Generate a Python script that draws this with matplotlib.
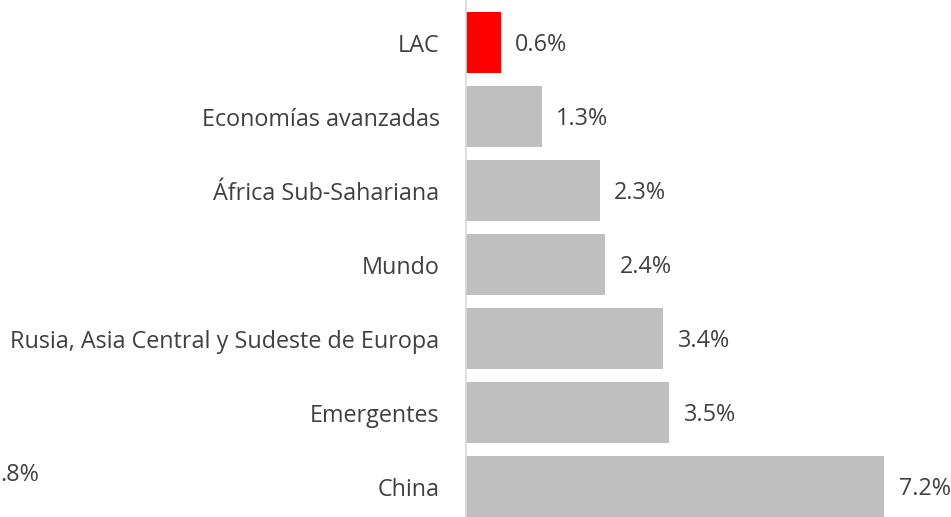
import matplotlib.pyplot as plt

regions = [
    "LAC",
    "Economías avanzadas",
    "África Sub-Sahariana",
    "Mundo",
    "Rusia, Asia Central y Sudeste de Europa",
    "Emergentes",
    "China",
]
growth = [0.6, 1.3, 2.3, 2.4, 3.4, 3.5, 7.2]
bar_colors = ["#ff0000"] + ["#bfbfbf"] * 6
cut_label = ".8%"

TEXT = "#404040"
FS = 16.8
plt.rcParams["font.family"] = ["Open Sans", "DejaVu Sans"]

fig = plt.figure(figsize=(9.51, 5.17), dpi=100)
ax = fig.add_axes([466 / 951, 0, 1 - 466 / 951, 1])

ypos = list(range(len(regions)))
ax.barh(ypos, growth, height=0.825, color=bar_colors)
ax.set_xlim(0, 8.35)
ax.set_ylim(6.41, -0.58)

for y, v in zip(ypos, growth):
    ax.text(v + 0.25, y + 0.03, f"{v:.1f}%", va="center", ha="left",
            fontsize=FS, color=TEXT)

ax.set_yticks(ypos)
ax.set_yticklabels(regions, fontsize=FS, color=TEXT)
ax.tick_params(axis="y", length=0, pad=19)
ax.set_xticks([])
for side in ["top", "right", "bottom"]:
    ax.spines[side].set_visible(False)
ax.spines["left"].set_color("#d9d9d9")
ax.spines["left"].set_linewidth(1.2)

fig.text(0.0, 1 - 481 / 517, cut_label, fontsize=FS, color=TEXT,
         ha="left", va="baseline")

fig.savefig("out.png", dpi=100, facecolor="white")
